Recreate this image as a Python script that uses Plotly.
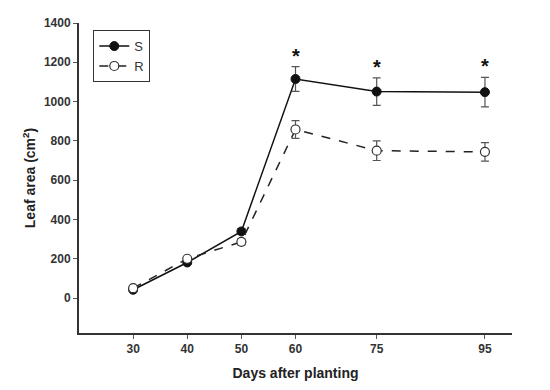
import plotly.graph_objects as go

days = [30, 40, 50, 60, 75, 95]
s_vals = [42, 181, 339, 1115, 1051, 1048]
s_err = [8, 10, 15, 63, 70, 75]
r_vals = [50, 200, 286, 858, 750, 744]
r_err = [8, 10, 15, 45, 50, 47]
sig_days = [60, 75, 95]
x_ticks = [30, 40, 50, 60, 75, 95]
y_ticks = [0, 200, 400, 600, 800, 1000, 1200, 1400]

fig = go.Figure()
fig.add_trace(go.Scatter(
    x=days, y=s_vals, name="S", mode="lines+markers",
    line=dict(color="#111111", width=1.5),
    marker=dict(symbol="circle", size=9, color="#111111", line=dict(color="#111111", width=1)),
    error_y=dict(type="data", array=s_err, visible=True, color="#555555", thickness=1.2, width=4),
))
fig.add_trace(go.Scatter(
    x=days, y=r_vals, name="R", mode="lines+markers",
    line=dict(color="#222222", width=1.5, dash="dash"),
    marker=dict(symbol="circle", size=9, color="white", line=dict(color="#333333", width=1.2)),
    error_y=dict(type="data", array=r_err, visible=True, color="#555555", thickness=1.2, width=4),
))

for d in sig_days:
    i = days.index(d)
    fig.add_annotation(x=d, y=s_vals[i] + s_err[i], text="<b>*</b>", showarrow=False,
                       yshift=11, yanchor="middle",
                       font=dict(family="Liberation Sans", size=20, color="#111111"))

fig.update_layout(
    width=542, height=382,
    margin=dict(l=71, r=38, t=15, b=57),
    paper_bgcolor="white", plot_bgcolor="white",
    font=dict(family="Liberation Sans, Arial, sans-serif", color="#222222"),
    showlegend=True,
    legend=dict(x=0.033, y=0.977, xanchor="left", yanchor="top",
                bordercolor="#333333", borderwidth=1, bgcolor="white",
                font=dict(size=13, color="#333333"), tracegroupgap=0),
    xaxis=dict(range=[20, 100], tickvals=x_ticks, ticktext=[str(t) for t in x_ticks],
               automargin=False,
               showgrid=False, zeroline=False, showline=True, linecolor="#333333", linewidth=2,
               ticks="outside", ticklen=4, tickcolor="#555555", tickwidth=1,
               tickfont=dict(size=12, family="Liberation Sans", weight="bold", color="#333333"),
               title=dict(text="Days after planting", standoff=13,
                          font=dict(size=14, family="Liberation Sans", weight="bold", color="#222222"))),
    yaxis=dict(range=[-178, 1400], tickvals=y_ticks,
               automargin=False,
               showgrid=False, zeroline=False, showline=True, linecolor="#333333", linewidth=2,
               ticks="outside", ticklen=4, tickcolor="#555555", tickwidth=1,
               tickfont=dict(size=12, family="Liberation Sans", weight="bold", color="#333333"),
               title=dict(text="Leaf area (cm<sup>2</sup>)", standoff=5,
                          font=dict(size=14, family="Liberation Sans", weight="bold", color="#222222"))),
)

fig.write_html("out.html")
